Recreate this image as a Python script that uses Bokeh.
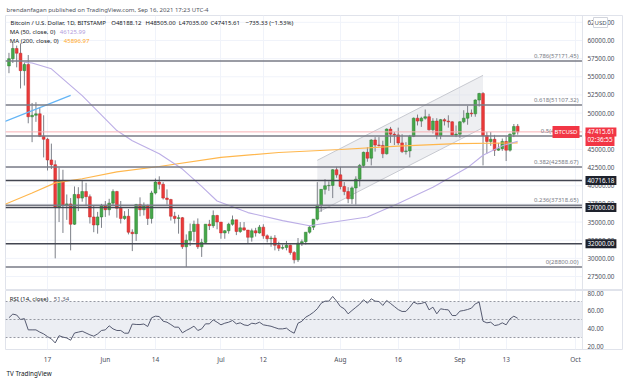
import pandas as pd
from bokeh.plotting import figure
from bokeh.models import (Range1d, FixedTicker, NumeralTickFormatter, Label, Span,
                          BoxAnnotation, ColumnDataSource, Title)
from bokeh.layouts import column
from bokeh.embed import file_html
from bokeh.resources import INLINE

FONT = "Noto Sans"
TXT = "#131722"
AXT = "#4a4e5a"

# ---------------- data ----------------
start_date = "2021-05-07"
end_date = "2021-09-16"

opens = [56500,57500,58900,58250,55850,56700,49500,49700,49900,46800,
         46400,43550,42900,37000,40716,37300,37500,34700,38800,38300,
         39200,38500,35700,34600,35700,37300,36700,37600,39200,36900,
         35500,35800,33600,33400,37400,36700,37300,35500,39000,40500,
         40200,38300,38100,35800,35500,35600,31600,32500,33700,34700,
         31600,32200,34700,34500,35900,35000,33500,33800,34700,35300,
         33700,34200,33900,32900,33800,33500,34300,33100,32700,32800,
         31800,31400,31500,31800,30800,29800,32100,32300,33600,34300,
         35400,37300,39500,40000,40050,42200,41500,39900,39200,38200,
         39700,40900,42800,44600,43800,46300,45600,45550,44400,47800,
         47100,47000,45900,44700,44800,46800,49300,48900,49300,49500,
         47700,48900,46900,49100,48900,48800,47000,47100,48800,49300,
         50000,49900,51800,52700,46900,46100,46400,44900,45100,46100,
         44900,47100,48188.12]
highs = [58300,59700,59300,59600,57000,58000,51400,51500,50700,49700,
         46600,45800,43500,42500,42200,38800,38300,39900,39800,40800,
         40400,38800,37300,36400,37500,37900,38200,39500,39300,37900,
         36500,36800,34000,37500,38400,37700,37400,39300,41000,41300,
         40500,39500,38200,36400,36000,35700,33300,34800,35200,35500,
         32700,34700,35300,36600,36000,35000,33900,34900,35900,35300,
         35000,35000,33900,34100,34200,34600,34700,33300,33100,33200,
         32300,31900,32400,31900,31000,32800,32600,33600,34500,35400,
         40500,39500,40900,40600,42300,42600,42600,40500,39800,39900,
         41300,43000,44700,45300,46400,46700,46700,46200,47900,48100,
         47400,48000,47100,46000,47000,49400,49800,49500,50500,49900,
         49300,49300,49200,49300,49700,48900,48300,48900,50400,51000,
         50500,51900,52800,52900,47400,47400,47000,45900,46500,46800,
         47200,48500,48505.00]
lows = [55500,56900,56300,53400,53800,48600,46000,48800,46700,43900,
        42100,42300,30000,35000,33500,35300,31100,34600,36500,37800,
        37200,34800,33600,33400,34200,35700,35900,37200,35600,34800,
        35300,33300,31000,32400,35800,35900,34600,34800,38800,39500,
        38100,37400,35200,34800,33400,31300,28800,31700,32300,31300,
        30200,32000,33900,34200,34000,32700,32700,33400,34500,33200,
        33500,33800,32100,32300,33000,33400,32700,32200,31600,31100,
        31000,31200,31100,30500,29300,29500,31700,31900,33400,33900,
        35200,36400,38800,39300,38300,41100,39500,38700,37600,37500,
        37400,39900,42500,43300,42800,44700,45400,43800,44300,45900,
        45600,45600,44500,44300,43900,46700,48300,48100,49100,47600,
        47200,46400,46400,48300,48000,46900,46700,46600,48600,48400,
        49500,49500,50900,42800,44400,45500,44100,44800,44800,43400,
        44700,46700,47035.00]
closes = [57500,58900,58250,55850,56700,49500,49700,49900,46800,46400,
          43550,42900,37000,40716,37300,37500,34700,38800,38300,39200,
          38500,35700,34600,35700,37300,36700,37600,39200,36900,35500,
          35800,33600,33400,37400,36700,37300,35500,39000,40500,40200,
          38300,38100,35800,35500,35600,31600,32500,33700,34700,31600,
          32200,34700,34500,35900,35000,33500,33800,34700,35300,33700,
          34200,33900,32900,33800,33500,34300,33100,32700,32800,31800,
          31400,31500,31800,30800,29800,32100,32300,33600,34300,35400,
          37300,39500,40000,40050,42200,41500,39900,39200,38200,39700,
          40900,42800,44600,43800,46300,45600,45550,44400,47800,47100,
          47000,45900,44700,44800,46800,49300,48900,49300,49500,47700,
          48900,46900,49100,48900,48800,47000,47100,48800,49300,50000,
          49900,51800,52700,46900,46100,46400,44900,45100,46100,44900,
          47100,48150,47415.61]

rsi_values = [52,56,55,50,51,38.5,38.5,38.5,36,34,
              31,28.5,24,32,30.5,29.5,27,35,36,37,
              35,33,31.5,34,37.8,38.5,43,39.6,37.8,37.8,
              34.8,34.8,45,44.5,44.4,45,42.2,51.9,53.7,53.3,
              48.1,47,44.4,41.5,41.5,35.2,37.8,40,42.6,37.8,
              39.6,45.2,45.2,49.6,47,44.1,45.9,47,48.9,45.2,
              46.3,44,43.3,45.9,45.2,47,44.1,43.3,42.5,41,
              39.6,39.6,40.4,37,34.8,45.9,48,52.6,55,58,
              61.9,68,70.4,70.4,75.6,70.4,64.4,61.9,56.3,60,
              63.5,67,71.9,68.1,73,70.4,70,65.6,71.1,67.8,
              64.4,61,58.9,59,63.7,69.3,67.4,67.8,69.3,60.7,
              63.7,56.3,61.9,61.1,60.7,54.4,54.4,59.3,60,61.1,
              62.6,67.4,69.3,48.1,46.3,47,43.3,44.1,46.3,44.1,
              50.7,53.7,51.34]

ma50_dates = ["2021-05-11","2021-05-13","2021-05-18","2021-05-26","2021-06-04",
              "2021-06-08","2021-06-15","2021-06-21","2021-06-26","2021-06-30",
              "2021-07-08","2021-07-17","2021-07-24","2021-07-29","2021-08-08",
              "2021-08-16","2021-08-25","2021-09-03","2021-09-07","2021-09-12",
              "2021-09-16"]
ma50_values = [57000,56900,56100,52400,47600,46200,44400,42300,39900,37900,
               36300,35200,34500,34900,35700,37550,39800,42500,44200,45500,
               46125.99]
ma200_dates = ["2021-05-06","2021-05-13","2021-05-19","2021-05-26","2021-06-04",
               "2021-06-15","2021-07-01","2021-07-16","2021-08-01","2021-08-16",
               "2021-08-31","2021-09-16"]
ma200_values = [37450,39000,40400,40960,41900,42650,43900,44580,44990,45450,
                45800,45896.97]

fib_ratios = ["0.786", "0.618", "0.5", "0.382", "0.236", "0"]
fib_levels = [57171.45, 51107.32, 46848.00, 42588.67, 37318.65, 28800.00]
hline_levels = [40716.18, 37000.00, 32000.00]

channel_dates = ["2021-07-26", "2021-09-07"]
channel_top = [43500, 55200]
channel_bottom = [36300, 48000]

trend_dates = ["2021-05-06", "2021-05-23"]
trend_values = [48850, 52430]

price_ticks = [27500, 30000, 32500, 35000, 37500, 40000, 42500, 45000, 50000,
               52500, 55000, 57500, 60000, 62500]
rsi_ticks = [20, 40, 60, 80]
rsi_levels = [70, 50, 30]
time_tick_dates = ["2021-05-17", "2021-06-01", "2021-06-14", "2021-07-01", "2021-07-12",
                   "2021-08-01", "2021-08-16", "2021-09-01", "2021-09-13", "2021-10-01"]
time_tick_labels = ["17", "Jun", "14", "Jul", "12", "Aug", "16", "Sep", "13", "Oct"]

# ---------------- helpers ----------------
dates = pd.date_range(start_date, end_date, freq="D")
origin = dates[0]


def dx(d):
    return (pd.Timestamp(d) - origin).days


x = [dx(d) for d in dates]
UP, DOWN = "#45a849", "#ea3a3a"
UP_E, DOWN_E = "#2e7d32", "#c62828"
src = ColumnDataSource(dict(
    x=x, o=opens, h=highs, l=lows, c=closes,
    top=[max(o, c) for o, c in zip(opens, closes)],
    bottom=[min(o, c) for o, c in zip(opens, closes)],
    color=[UP if c >= o else DOWN for o, c in zip(opens, closes)],
    edge=[UP_E if c >= o else DOWN_E for o, c in zip(opens, closes)],
))
tick_x = [dx(d) for d in time_tick_dates]

W = 623
X0 = -0.9          # left edge of the chart
X_EDGE = 148.8     # where the price scale begins
xr = Range1d(X0, 159.45)
STANDOFF = -36


def style_right_axis(ax, ticks):
    ax.ticker = FixedTicker(ticks=ticks)
    ax.formatter = NumeralTickFormatter(format="0.00")
    ax.major_label_text_font = FONT
    ax.major_label_text_font_size = "6.3px"
    ax.major_label_text_color = AXT
    ax.major_tick_out = 0
    ax.major_tick_in = 0
    ax.minor_tick_out = 0
    ax.minor_tick_in = 0
    ax.axis_line_color = None
    ax.major_label_standoff = STANDOFF


# ---------------- main pane ----------------
pA = figure(width=W, height=290, x_range=xr, y_range=Range1d(25712, 63442), title=None,
            output_backend="svg", toolbar_location=None, y_axis_location="right",
            min_border_left=5, min_border_right=0, min_border_top=15, min_border_bottom=1)
pA.xaxis.visible = False
style_right_axis(pA.yaxis[0], price_ticks)
pA.ygrid.visible = False
pA.xgrid.ticker = FixedTicker(ticks=tick_x)
pA.xgrid.grid_line_color = "#f0f3fa"
pA.outline_line_color = "#e0e3eb"
pA.segment(x0=X0, x1=X_EDGE, y0=price_ticks, y1=price_ticks, line_color="#f0f3fa", line_width=1)
pA.add_layout(Span(location=X_EDGE, dimension="height", line_color="#e0e3eb", line_width=1))

pA.add_layout(Title(text="brendanfagan published on TradingView.com, Sep 16, 2021 17:23 UTC-4",
                    align="left", offset=1, standoff=3, text_font=FONT, text_font_size="6px",
                    text_font_style="normal", text_color="#50535e"), "above")

# channel drawing
cx = [dx(d) for d in channel_dates]
pA.patch(cx + cx[::-1], channel_top + channel_bottom[::-1],
         fill_color="#d1d4dc", fill_alpha=0.38, line_color=None)
pA.line(cx, channel_top, line_color="#c8cad1", line_width=1)
pA.line(cx, channel_bottom, line_color="#c8cad1", line_width=1)

# candles
pA.segment(x0="x", y0="h", x1="x", y1="l", source=src, line_color="#7d8089", line_width=1)
pA.vbar(x="x", width=0.72, top="top", bottom="bottom", fill_color="color",
        line_color="edge", line_width=0.5, source=src)

# moving averages
pA.line([dx(d) for d in ma200_dates], ma200_values, line_color="#ffb74d", line_width=1.2)
pA.line([dx(d) for d in ma50_dates], ma50_values, line_color="#bcaee6", line_width=1.1)

# trend line
pA.line([dx(d) for d in trend_dates], trend_values, line_color="#64b5f6", line_width=1.3)

# horizontal levels
pA.segment(x0=X0, x1=X_EDGE, y0=fib_levels, y1=fib_levels, line_color="#787b86", line_width=1.5)
pA.segment(x0=X0, x1=X_EDGE, y0=hline_levels, y1=hline_levels, line_color="#434651", line_width=1.5)
pA.segment(x0=[X0], x1=[X_EDGE], y0=[closes[-1]], y1=[closes[-1]], line_color="#f7b0b4", line_width=1)

for r, lv in zip(fib_ratios, fib_levels):
    pA.add_layout(Label(x=573, x_units="screen", y=lv, text=f"{r}({lv:.2f})",
                        text_align="right", text_baseline="bottom", y_offset=1,
                        text_font=FONT, text_font_size="6px", text_color="#787b86"))

pA.add_layout(Label(x=574, x_units="screen", y=closes[-1], text="BTCUSD",
                    text_align="right", text_baseline="middle", text_font=FONT,
                    text_font_size="6px", text_color="white",
                    background_fill_color="#f23645", padding=2))
for lv in hline_levels:
    pA.add_layout(Label(x=580, x_units="screen", y=lv, text=f"{lv:.2f}",
                        text_align="left", text_baseline="middle", text_font=FONT,
                        text_font_size="6.3px", text_color="white",
                        background_fill_color="#1e222d", padding=2))
pA.add_layout(Label(x=580, x_units="screen", y=closes[-1], y_offset=-7.6, text="02:36:55",
                    text_align="left", text_baseline="middle", text_font=FONT,
                    text_font_size="6.3px", text_color="white",
                    background_fill_color="#f23645", padding=2))
pA.add_layout(Label(x=580, x_units="screen", y=closes[-1], text=f"{closes[-1]:.2f}",
                    text_align="left", text_baseline="middle", text_font=FONT,
                    text_font_size="6.3px", text_color="white",
                    background_fill_color="#f23645", padding=2))
pA.add_layout(Label(x=588, x_units="screen", y=267, y_units="screen", text="USD",
                    text_align="left", text_baseline="middle", text_font=FONT,
                    text_font_size="6px", text_color=AXT, background_fill_color="white",
                    border_line_color="#d1d4dc", padding=1))

# legend texts
legend_parts = [(5, "Bitcoin / U.S. Dollar, 1D, BITSTAMP"), (105.7, "O48188.12"),
                (140, "H48505.00"), (173.3, "L47035.00"), (205, "C47415.61"),
                (240, "\u2212735.33 (\u22121.53%)")]
for lx, t in legend_parts:
    pA.add_layout(Label(x=lx, y=267, x_units="screen", y_units="screen", text=t,
                        text_baseline="middle", text_font=FONT, text_font_size="6px",
                        text_color=TXT))
pA.add_layout(Label(x=4.3, y=258, x_units="screen", y_units="screen", text="MA (50, close, 0)",
                    text_baseline="middle", text_font=FONT, text_font_size="6px", text_color=TXT))
pA.add_layout(Label(x=54.3, y=258, x_units="screen", y_units="screen", text=f"{ma50_values[-1]:.2f}",
                    text_baseline="middle", text_font=FONT, text_font_size="6px", text_color="#b39ddb"))
pA.add_layout(Label(x=4.3, y=249, x_units="screen", y_units="screen", text="MA (200, close, 0)",
                    text_baseline="middle", text_font=FONT, text_font_size="6px", text_color=TXT))
pA.add_layout(Label(x=58.3, y=249, x_units="screen", y_units="screen", text=f"{ma200_values[-1]:.2f}",
                    text_baseline="middle", text_font=FONT, text_font_size="6px", text_color="#ffa726"))

# ---------------- RSI pane ----------------
pB = figure(width=W, height=92, x_range=xr, y_range=Range1d(16.7, 82.2), title=None,
            output_backend="svg", toolbar_location=None, y_axis_location="right",
            min_border_left=5, min_border_right=0, min_border_top=0, min_border_bottom=33)
style_right_axis(pB.yaxis[0], rsi_ticks)
xb = pB.xaxis[0]
xb.ticker = FixedTicker(ticks=tick_x)
xb.major_label_overrides = {t: lab for t, lab in zip(tick_x, time_tick_labels)}
xb.major_label_text_font = FONT
xb.major_label_text_font_size = "6.5px"
xb.major_label_text_color = AXT
xb.major_tick_out = 0
xb.major_tick_in = 0
xb.minor_tick_out = 0
xb.minor_tick_in = 0
xb.axis_line_color = None
xb.major_label_standoff = 5
pB.ygrid.visible = False
pB.xgrid.ticker = FixedTicker(ticks=tick_x)
pB.xgrid.grid_line_color = "#f0f3fa"
pB.outline_line_color = "#e0e3eb"
pB.add_layout(Span(location=X_EDGE, dimension="height", line_color="#e0e3eb", line_width=1))

pB.add_layout(BoxAnnotation(left=X0, right=X_EDGE, bottom=rsi_levels[2], top=rsi_levels[0],
                            fill_color="#eceef3", fill_alpha=1, line_color=None, level="underlay"))
pB.segment(x0=X0, x1=X_EDGE, y0=rsi_levels, y1=rsi_levels, line_color="#9598a1",
           line_dash="2 2", line_width=1)
pB.line(x, rsi_values, line_color="#555a70", line_width=1)

pB.add_layout(Label(x=4.3, y=51, x_units="screen", y_units="screen", text="RSI (14, close)",
                    text_baseline="middle", text_font=FONT, text_font_size="6px", text_color=TXT))
pB.add_layout(Label(x=48.3, y=51, x_units="screen", y_units="screen", text=f"{rsi_values[-1]:.2f}",
                    text_baseline="middle", text_font=FONT, text_font_size="6px", text_color="#555a70"))
pB.add_layout(Title(text="TV TradingView", align="left", offset=1, standoff=1, text_font=FONT,
                    text_font_size="6.3px", text_font_style="normal", text_color=TXT), "below")

layout = column(pA, pB, spacing=0)
open("out.html", "w").write(file_html(layout, INLINE))
